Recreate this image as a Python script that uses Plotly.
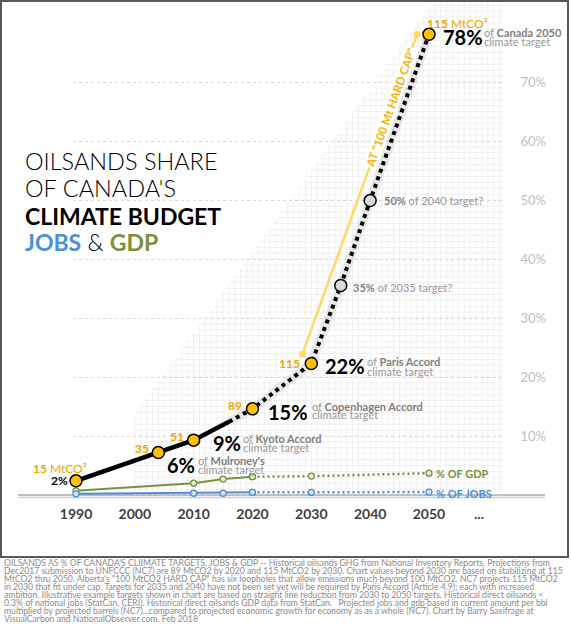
import math
import plotly.graph_objects as go

# chart data
# oilsands GHG as % of Canada's climate target for that year
hist_years = [1990, 2004, 2010, 2016]
hist_share = [2.4, 7.2, 9.3, 12.4]
proj_years = [2016, 2020, 2030, 2035, 2040, 2050]
proj_share = [12.4, 14.6, 22.3, 35.5, 49.9, 78.1]

target_years = [1990, 2004, 2010, 2020, 2030, 2035, 2040, 2050]
target_share = [2.4, 7.2, 9.3, 14.6, 22.3, 35.5, 49.9, 78.1]
target_mt = ["15", "35", "51", "89", "115", "", "", "115"]
target_pct = ["2%", "6%", "9%", "15%", "22%", "35%", "50%", "78%"]
target_name = ["", "Mulroney's", "Kyoto Accord", "Copenhagen Accord",
               "Paris Accord", "2035 target?", "2040 target?", "Canada 2050"]
target_is_set = [True, True, True, True, True, False, False, True]

# "100 Mt hard cap" line
cap_years = [2028.5, 2048.0]
cap_share = [23.9, 78.1]

# oilsands share of national GDP and jobs (%)
econ_years = [1990, 2010, 2015, 2020, 2030, 2050]
gdp_share = [0.7, 2.0, 2.7, 3.1, 3.2, 3.7]
jobs_share = [0.2, 0.3, 0.3, 0.45, 0.45, 0.5]

x_ticks = [1990, 2000, 2010, 2020, 2030, 2040, 2050, 2058.5]
x_labels = ["1990", "2000", "2010", "2020", "2030", "2040", "2050", "..."]
y_ticks = [10, 20, 30, 40, 50, 60, 70]
y_labels = ["10%", "20%", "30%", "40%", "50%", "60%", "70%"]

caption = [
    "OILSANDS AS % OF CANADA'S CLIIMATE TARGETS, JOBS & GDP -- Historical oilsands GHG from National Inventory Reports. Projections from",
    "Dec2017 submission to UNFCCC (NC7) are 89 MtCO2 by 2020 and 115 MtCO2 by 2030. Chart values beyond 2030 are based on stabilizing at 115",
    "MtCO2 thru 2050. Alberta's \"100 MtCO2 HARD CAP\" has six loopholes that allow emissions much beyond 100 MtCO2. NC7 projects 115 MtCO2",
    "in 2030 that fit under cap. Targets for 2035 and 2040 have not been set yet will be required by Paris Accord (Article 4.9); each with increased",
    "ambition. Illustrative example targets shown in chart are based on straight line reduction from 2030 to 2050 targets. Historical direct oilsands &lt;",
    "0.3% of national jobs (StatCan, CERI). Historical direct oilsands GDP data from StatCan.   Projected jobs and gdp based in current amount per bbl",
    "multiplied by projected barrels (NC7)...compared to projected economic growth for economy as as a whole (NC7). Chart by Barry Saxifrage at",
    "VisualCarbon and NationalObserver.com. Feb 2018",
]

#
# LAYOUT HELPERS (pixel positions measured on the 571x640 picture)
#

W, H = 571, 640
PLOT_BOTTOM = 500
PX_PER_YEAR = 5.883
PX_PER_PCT = 5.9

def year_at(px):
    return 1990 + (px - 76) / PX_PER_YEAR

def pct_at(py):
    return (495 - py) / PX_PER_PCT

def paper_x(px):
    return px / W

def paper_y(py):
    return (PLOT_BOTTOM - py) / PLOT_BOTTOM

FONT = "Lato"
GOLD = "#FFC000"
GOLD_TEXT = "#EBA600"
CAP = "#FFD966"
GREEN = "#76923C"
BLUE = "#4A90D9"
GREY = "#7F7F7F"


def note(x, y, text, size, color, xshift=0, yshift=0, xanchor="left",
         ref="data", weight=None, angle=0, bg=None):
    font = dict(family=FONT, size=size, color=color)
    if weight:
        font["weight"] = weight
    a = dict(x=x, y=y, text=text, showarrow=False, xanchor=xanchor,
             yanchor="middle", xshift=xshift, yshift=yshift, font=font,
             textangle=angle, borderpad=0)
    if ref == "paper":
        a["xref"] = "paper"
        a["yref"] = "paper"
    if bg:
        a["bgcolor"] = bg
    return a


fig = go.Figure()

# soft shadow under the projected line
fig.add_trace(go.Scatter(x=proj_years, y=proj_share, mode="lines",
                         line=dict(color="rgba(0,0,0,0.07)", width=9),
                         hoverinfo="skip", cliponaxis=False))

fig.add_trace(go.Scatter(x=cap_years, y=cap_share, mode="lines+markers",
                         line=dict(color=CAP, width=2.5),
                         marker=dict(size=7, color=CAP),
                         hoverinfo="skip", cliponaxis=False))

for vals, color, fill in [(gdp_share, GREEN, "#E4EDD6"), (jobs_share, BLUE, "#D6E5F6")]:
    fig.add_trace(go.Scatter(x=econ_years[:4], y=vals[:4], mode="lines+markers",
                             line=dict(color=color, width=2),
                             marker=dict(size=6, color=fill, line=dict(color=color, width=1.3)),
                             hoverinfo="skip", cliponaxis=False))
    fig.add_trace(go.Scatter(x=econ_years[3:], y=vals[3:], mode="lines+markers",
                             line=dict(color=color, width=2.5, dash="2px,3px"),
                             marker=dict(size=6, color=fill, line=dict(color=color, width=1.3)),
                             hoverinfo="skip", cliponaxis=False))

fig.add_trace(go.Scatter(x=hist_years, y=hist_share, mode="lines",
                         line=dict(color="black", width=4.5),
                         hoverinfo="skip", cliponaxis=False))
fig.add_trace(go.Scatter(x=proj_years, y=proj_share, mode="lines",
                         line=dict(color="black", width=4, dash="4px,4px"),
                         hoverinfo="skip", cliponaxis=False))

fig.add_trace(go.Scatter(x=target_years, y=target_share, mode="markers",
                         marker=dict(size=12,
                                     color=[GOLD if s else "#D9D9D9" for s in target_is_set],
                                     line=dict(color="black", width=1.5)),
                         hoverinfo="skip", cliponaxis=False))

#
# ANNOTATIONS
#

ann = []

# MtCO2 labels next to the points
mt_shift = {0: (-16, 12), 1: (-8, 4.5), 2: (-8.7, 4), 3: (-9.5, 3), 4: (-10.3, 0), 7: (-3, 11)}
for i, (dx, dy) in mt_shift.items():
    txt = "<b>" + target_mt[i] + "</b>"
    if i in (0, 7):
        txt += " MtCO²"
    anchor = "right" if i in (1, 2, 3, 4) else ("center" if i == 0 else "left")
    ann.append(note(target_years[i], target_share[i], txt, 12, GOLD_TEXT, dx, dy, anchor))

ann.append(note(target_years[0], target_share[0], "<b>2%</b>", 12, "black", -7, 0, "right"))

# big percentage + target name, two lines
big = {1: (7.7, -12.5, 38.7, -8, -16.5),
       2: (18.3, -3, 48.3, 2, -7),
       3: (14.5, -3, 58.5, 2.4, -6.1),
       4: (12.7, -2.6, 54.7, 2.4, -7.6),
       7: (13, -3, 54, 2, -7)}
for i, (px_, py_, nx, ny1, ny2) in big.items():
    x, y = target_years[i], target_share[i]
    ann.append(note(x, y, "<b>" + target_pct[i] + "</b>", 20, "black", px_, py_))
    ann.append(note(x, y, "<span style='color:#999999'>of</span> <b>" + target_name[i] + "</b>",
                    11, GREY, nx, ny1))
    ann.append(note(x, y, "climate target", 11, "#999999", nx, ny2))

# future targets not set yet
for i, (dx, dy) in {5: (11.3, -1.5), 6: (13, 0)}.items():
    ann.append(note(target_years[i], target_share[i],
                    "<b>" + target_pct[i] + "</b> <span style='color:#999999'>of " + target_name[i] + "</span>",
                    11, GREY, dx, dy))

# hard cap text along its line
t = 0.77
cap_angle = math.degrees(math.atan2((cap_share[1] - cap_share[0]) * PX_PER_PCT,
                                    (cap_years[1] - cap_years[0]) * PX_PER_YEAR))
ann.append(note(cap_years[0] + t * (cap_years[1] - cap_years[0]),
                cap_share[0] + t * (cap_share[1] - cap_share[0]),
                "<b>AT \"100 Mt HARD CAP\"</b>", 11.5, "#F4B400", 0, 0, "center",
                angle=-cap_angle, bg="white"))

ann.append(note(econ_years[-1], gdp_share[-1], "<b>% OF GDP</b>", 11, GREEN, 6, 0))
ann.append(note(econ_years[-1], jobs_share[-1], "<b>% OF JOBS</b>", 11, BLUE, 6, -1))

# title block
ann.append(note(paper_x(24), paper_y(161), "OILSANDS SHARE", 23.5, "black", ref="paper", weight=300))
ann.append(note(paper_x(24), paper_y(188), "OF CANADA'S", 23.5, "black", ref="paper", weight=300))
ann.append(note(paper_x(24), paper_y(216), "<b>CLIMATE BUDGET</b>", 23, "black", ref="paper"))
ann.append(note(paper_x(24), paper_y(242),
                "<b><span style='color:%s'>JOBS</span></b> &amp; <b><span style='color:%s'>GDP</span></b>" % (BLUE, GREEN),
                23, "black", ref="paper", weight=300))

# caption under the chart
for k, line in enumerate(caption):
    ann.append(note(paper_x(3), paper_y(562 + 8.1 * k), line, 8.65, "#8A8A8A", ref="paper"))

#
# SHAPES: faint graph-paper grid, baseline, frame
#

shapes = []
grid_right = year_at(503)
grid_top = pct_at(0)
for k in range(1, int(grid_top) + 1):
    left = max(2000, 2014 + (k - 33) * 0.725)
    shapes.append(dict(type="line", xref="x", yref="y", x0=left, x1=grid_right, y0=k, y1=k,
                       line=dict(color="#F0F0F0", width=1), layer="below"))
for yr in range(2000, int(grid_right) + 1):
    top = min(grid_top, 33 + (yr - 2014) / 0.725)
    shapes.append(dict(type="line", xref="x", yref="y", x0=yr, x1=yr, y0=0, y1=top,
                       line=dict(color="#F0F0F0", width=1), layer="below"))

shapes.append(dict(type="line", xref="paper", yref="y", x0=paper_x(18), x1=paper_x(545),
                   y0=0, y1=0, line=dict(color="#A6A6A6", width=1.5), layer="below"))
shapes.append(dict(type="line", xref="paper", yref="y", x0=paper_x(18), x1=paper_x(545),
                   y0=pct_at(497.5), y1=pct_at(497.5), line=dict(color="#D0D0D0", width=1.5),
                   layer="below"))
shapes.append(dict(type="rect", xref="paper", yref="paper", x0=paper_x(1), x1=paper_x(568),
                   y0=paper_y(557), y1=paper_y(1), line=dict(color="#595959", width=2)))

fig.update_layout(
    width=W, height=H, autosize=False,
    margin=dict(l=0, r=0, t=0, b=H - PLOT_BOTTOM, pad=0, autoexpand=False),
    paper_bgcolor="white", plot_bgcolor="white",
    showlegend=False,
    annotations=ann,
    shapes=shapes,
    xaxis=dict(domain=[paper_x(73), paper_x(505)], range=[year_at(73), year_at(505)],
               tickvals=x_ticks, ticktext=["<b>%s</b>" % s for s in x_labels],
               tickfont=dict(family=FONT, size=14, color="#404040"),
               showgrid=False, zeroline=False, showline=False, ticks="",
               ticklabelstandoff=4, automargin=False),
    yaxis=dict(range=[pct_at(PLOT_BOTTOM), pct_at(0)], tickvals=y_ticks, ticktext=y_labels,
               tickfont=dict(family=FONT, size=13, color="#C0C0C0"),
               anchor="free", position=paper_x(546), side="left",
               showgrid=True, gridcolor="#D9D9D9", griddash="dot", gridwidth=1,
               zeroline=False, showline=False, ticks="", automargin=False),
)

fig.write_html("out.html", config={"displayModeBar": False},
               post_script="document.body.style.margin='0';")
